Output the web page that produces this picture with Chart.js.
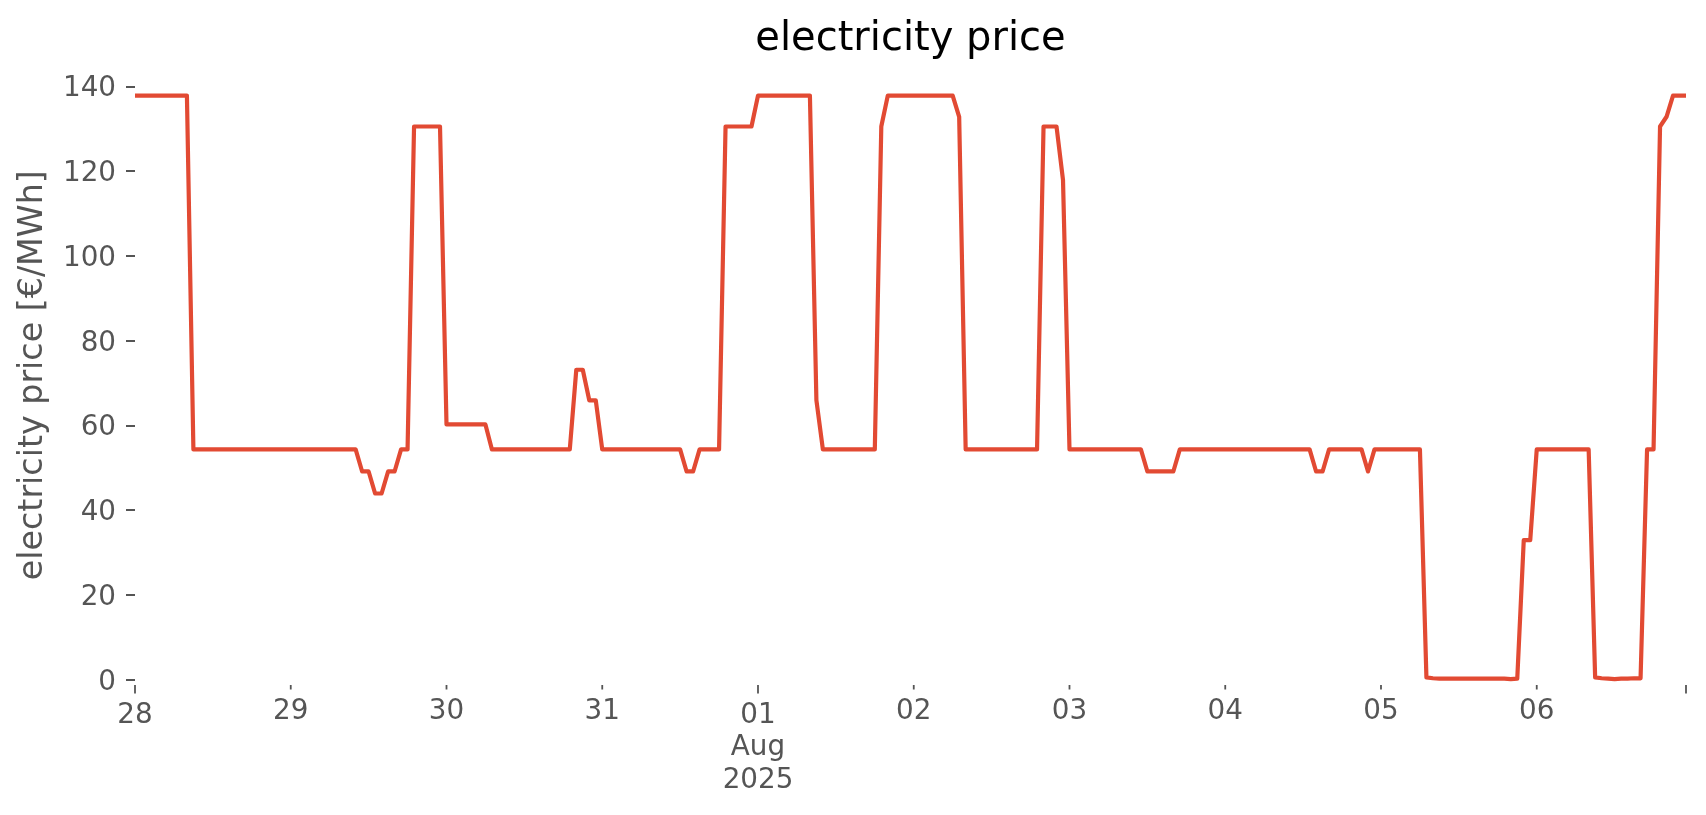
<!DOCTYPE html>
<html>
<head>
<meta charset="utf-8">
<script src="https://cdn.jsdelivr.net/npm/chart.js@4/dist/chart.umd.min.js"></script>
<style>
  html, body { margin: 0; padding: 0; background: #fff; }
  #wrap { width: 1706px; height: 815px; }
</style>
</head>
<body>
<div id="wrap"><canvas id="chart" width="1706" height="815"></canvas></div>
<script>
// hourly prices, 28 Jul 2025 00:00 .. 06 Aug 2025 23:00 (one row per day)
const prices = [
  137.9, 137.9, 137.9, 137.9, 137.9, 137.9, 137.9, 137.9, 137.9, 54.4, 54.4, 54.4, 54.4, 54.4, 54.4, 54.4, 54.4, 54.4, 54.4, 54.4, 54.4, 54.4, 54.4, 54.4,
  54.4, 54.4, 54.4, 54.4, 54.4, 54.4, 54.4, 54.4, 54.4, 54.4, 54.4, 49.2, 49.2, 44.0, 44.0, 49.2, 49.2, 54.4, 54.4, 130.6, 130.6, 130.6, 130.6, 130.6,
  60.3, 60.3, 60.3, 60.3, 60.3, 60.3, 60.3, 54.4, 54.4, 54.4, 54.4, 54.4, 54.4, 54.4, 54.4, 54.4, 54.4, 54.4, 54.4, 54.4, 73.2, 73.2, 66.0, 66.0,
  54.4, 54.4, 54.4, 54.4, 54.4, 54.4, 54.4, 54.4, 54.4, 54.4, 54.4, 54.4, 54.4, 49.2, 49.2, 54.4, 54.4, 54.4, 54.4, 130.6, 130.6, 130.6, 130.6, 130.6,
  137.9, 137.9, 137.9, 137.9, 137.9, 137.9, 137.9, 137.9, 137.9, 66.0, 54.4, 54.4, 54.4, 54.4, 54.4, 54.4, 54.4, 54.4, 54.4, 130.6, 137.9, 137.9, 137.9, 137.9,
  137.9, 137.9, 137.9, 137.9, 137.9, 137.9, 137.9, 132.9, 54.4, 54.4, 54.4, 54.4, 54.4, 54.4, 54.4, 54.4, 54.4, 54.4, 54.4, 54.4, 130.6, 130.6, 130.6, 118.0,
  54.4, 54.4, 54.4, 54.4, 54.4, 54.4, 54.4, 54.4, 54.4, 54.4, 54.4, 54.4, 49.2, 49.2, 49.2, 49.2, 49.2, 54.4, 54.4, 54.4, 54.4, 54.4, 54.4, 54.4,
  54.4, 54.4, 54.4, 54.4, 54.4, 54.4, 54.4, 54.4, 54.4, 54.4, 54.4, 54.4, 54.4, 54.4, 49.2, 49.2, 54.4, 54.4, 54.4, 54.4, 54.4, 54.4, 49.2, 54.4,
  54.4, 54.4, 54.4, 54.4, 54.4, 54.4, 54.4, 0.6, 0.4, 0.3, 0.3, 0.3, 0.3, 0.3, 0.3, 0.3, 0.3, 0.3, 0.3, 0.3, 0.2, 0.3, 33.0, 33.0,
  54.4, 54.4, 54.4, 54.4, 54.4, 54.4, 54.4, 54.4, 54.4, 0.6, 0.4, 0.3, 0.2, 0.3, 0.3, 0.4, 0.4, 54.4, 54.4, 130.6, 132.9, 137.9, 137.9, 137.9
];

// x axis: hours since 28 Jul 00:00
const xTickHours = [0, 24, 48, 72, 96, 120, 144, 168, 192, 216, 239];
const xTickLabels = ['28', '29', '30', '31', ['01', 'Aug', '2025'], '02', '03', '04', '05', '06', ''];
const xMajorTicks = [0, 4, 10];
const yTicks = [0, 20, 40, 60, 80, 100, 120, 140];

const FONT = 'DejaVu Sans';
const GREY = '#555555';

// matplotlib-like tick marks (short for days, long for major)
const tickMarks = {
  id: 'tickMarks',
  afterDraw(chart) {
    const { ctx, chartArea, scales: { x, y } } = chart;
    ctx.save();
    ctx.strokeStyle = GREY;
    ctx.lineWidth = 2;
    y.ticks.forEach(t => {
      const py = Math.round(y.getPixelForValue(t.value));
      ctx.beginPath();
      ctx.moveTo(chartArea.left - 9, py);
      ctx.lineTo(chartArea.left, py);
      ctx.stroke();
    });
    ctx.lineWidth = 1.8;
    x.ticks.forEach((t, i) => {
      const px = x.getPixelForValue(t.value);
      const len = xMajorTicks.includes(i) ? 8.5 : 4.5;
      ctx.beginPath();
      ctx.moveTo(px, chartArea.bottom + 1);
      ctx.lineTo(px, chartArea.bottom + 1 + len);
      ctx.stroke();
    });
    ctx.restore();
  }
};

const data = {
  datasets: [{
    label: 'electricity price',
    data: prices.map((v, i) => ({ x: i, y: v })),
    borderColor: '#E24A33',
    borderWidth: 4.2,
    pointRadius: 0,
    tension: 0,
    borderJoinStyle: 'round',
    fill: false
  }]
};

const config = {
  type: 'line',
  data: data,
  options: {
    responsive: false,
    animation: false,
    devicePixelRatio: 1,
    layout: { padding: { top: 0, left: 0, right: 20, bottom: 0 } },
    scales: {
      x: {
        type: 'linear',
        min: 0,
        max: 239,
        grid: { display: false, drawTicks: false },
        border: { display: false },
        afterBuildTicks: axis => { axis.ticks = xTickHours.map(v => ({ value: v })); },
        afterFit: axis => { axis.height = 131; },
        ticks: {
          autoSkip: false,
          maxRotation: 0,
          padding: 15.15,
          color: GREY,
          // major labels sit a bit lower, like matplotlib's longer major ticks
          font: ctx => ({
            family: FONT,
            size: 27.8,
            lineHeight: xMajorTicks.includes(ctx.index) ? '32.5px' : '24.5px'
          }),
          callback: (value, index) => xTickLabels[index]
        }
      },
      y: {
        min: -0.95,
        max: 144.81,
        grid: { display: false, drawTicks: false },
        border: { display: false },
        afterBuildTicks: axis => { axis.ticks = yTicks.map(v => ({ value: v })); },
        afterFit: axis => { axis.width = 135; },
        ticks: {
          padding: 19,
          labelOffset: 2.5,
          color: GREY,
          font: { family: FONT, size: 27.8 }
        },
        title: {
          display: true,
          text: 'electricity price [€/MWh]',
          color: GREY,
          font: { family: FONT, size: 33.3, lineHeight: 1.2 },
          padding: { top: 13, bottom: 0 }
        }
      }
    },
    plugins: {
      legend: { display: false },
      tooltip: { enabled: false },
      title: {
        display: true,
        fullSize: false,
        text: 'electricity price',
        color: '#000000',
        font: { family: FONT, size: 40, weight: 'normal', lineHeight: 1.2 },
        padding: { top: 15.7, bottom: 2.6 }
      }
    }
  },
  plugins: [tickMarks]
};

new Chart(document.getElementById('chart'), config);
</script>
</body>
</html>
